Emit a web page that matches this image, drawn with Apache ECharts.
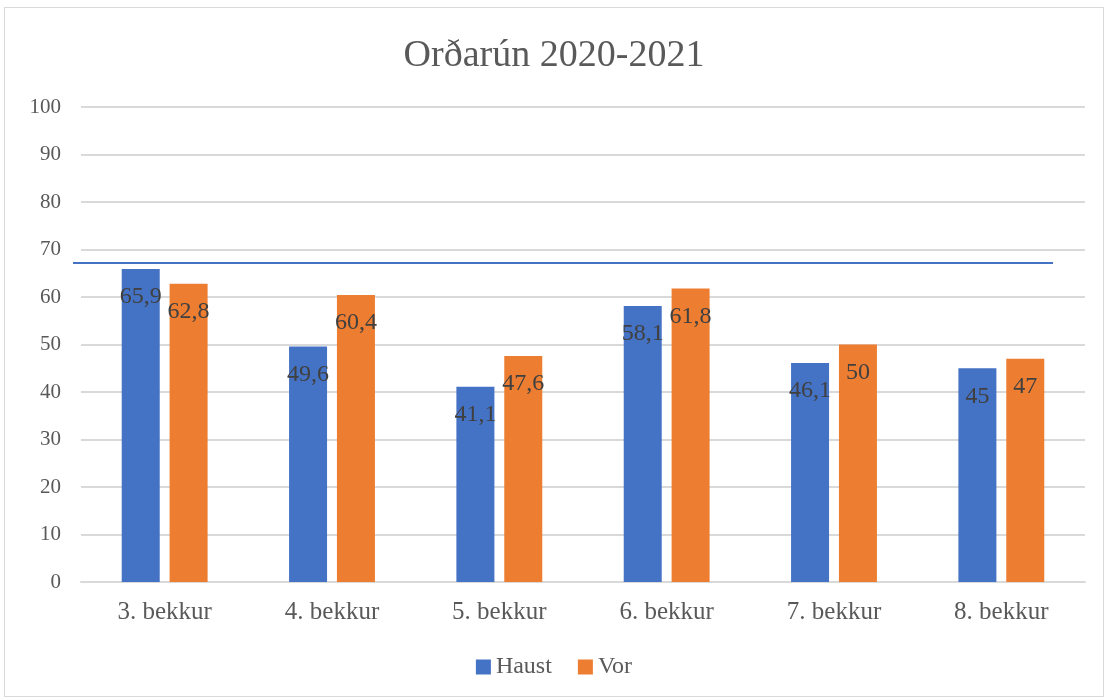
<!DOCTYPE html>
<html><head><meta charset="utf-8">
<script src="https://cdn.jsdelivr.net/npm/echarts@6/dist/echarts.min.js"></script>
<style>
html,body{margin:0;padding:0;background:#fff;}
#c{position:absolute;left:4px;top:7px;width:1100px;height:690px;border:1px solid #d9d9d9;box-sizing:border-box;}
</style></head><body>
<div id="c"></div>
<script>
const categories = ['3. bekkur','4. bekkur','5. bekkur','6. bekkur','7. bekkur','8. bekkur'];
const haust = [65.9, 49.6, 41.1, 58.1, 46.1, 45];
const vor = [62.8, 60.4, 47.6, 61.8, 50, 47];
const refValue = 67.3;
const yTicks = {min: 0, max: 100, interval: 10};

const FONT = '"Liberation Serif", "DejaVu Serif", serif';
const chart = echarts.init(document.getElementById('c'));
const fmt = p => String(p.value).replace('.', ',');
const lbl = {show: true, position: 'insideTop', distance: 16, formatter: fmt,
  fontFamily: FONT, fontSize: 24, color: '#404040'};
chart.setOption({
  title: {text: 'Orðarún 2020-2021', left: 'center', top: 24,
    textStyle: {fontFamily: FONT, fontSize: 38, fontWeight: 'normal', color: '#595959'}},
  legend: {bottom: 12, left: 'center', itemWidth: 15, itemHeight: 15, itemGap: 26,
    icon: 'rect', textStyle: {fontFamily: FONT, fontSize: 24, color: '#595959'}},
  grid: {left: 76, right: 18, top: 99, bottom: 114, containLabel: false},
  xAxis: {type: 'category', data: categories,
    axisLine: {lineStyle: {color: '#d9d9d9', width: 2}}, axisTick: {show: false},
    axisLabel: {fontFamily: FONT, fontSize: 25, color: '#595959', margin: 18}},
  yAxis: {type: 'value', min: yTicks.min, max: yTicks.max, interval: yTicks.interval,
    axisLine: {show: false}, axisTick: {show: false},
    splitLine: {lineStyle: {color: '#d9d9d9', width: 2}},
    axisLabel: {fontFamily: FONT, fontSize: 21, color: '#595959', margin: 20}},
  series: [
    {name: 'Haust', type: 'bar', data: haust, barWidth: 38, barGap: '26%',
     itemStyle: {color: '#4472c4'}, label: lbl,
     markLine: {symbol: 'none', silent: true, label: {show: false},
       lineStyle: {color: '#4472c4', width: 2, type: 'solid'},
       data: [[{x: 68, yAxis: refValue}, {x: 1048, yAxis: refValue}]]}},
    {name: 'Vor', type: 'bar', data: vor, barWidth: 38,
     itemStyle: {color: '#ed7d31'}, label: lbl}
  ]
});
</script></body></html>
